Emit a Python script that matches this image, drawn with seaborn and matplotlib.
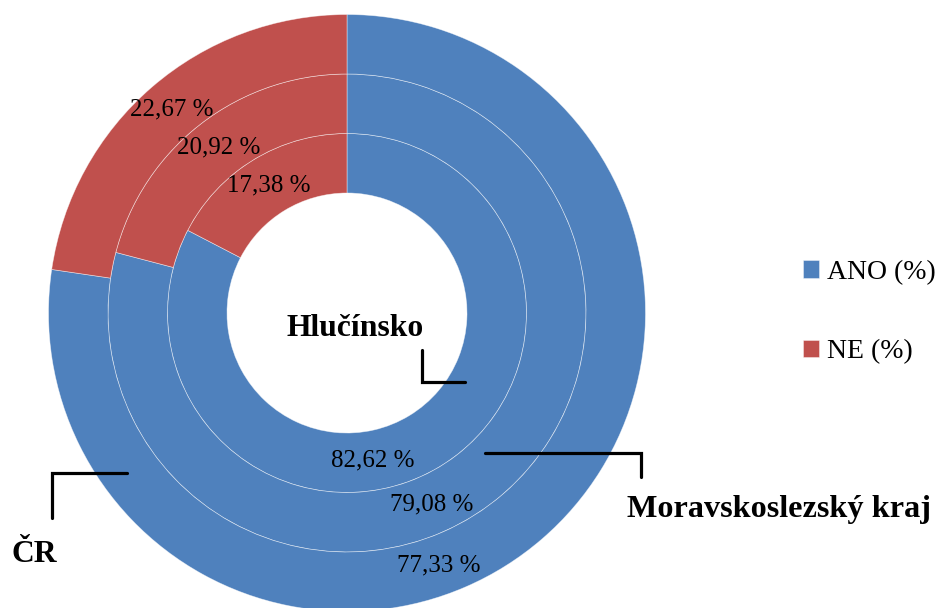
import numpy as np
import matplotlib.pyplot as plt
import seaborn as sns

# data: nested doughnut, inner ring first
regions = ['Hlučínsko', 'Moravskoslezský kraj', 'ČR']
ano = [82.62, 79.08, 77.33]
ne = [17.38, 20.92, 22.67]
series = ['ANO (%)', 'NE (%)']
colors = ['#4F81BD', '#C0504D']

sns.set_theme(style='white')
plt.rcParams['font.family'] = ['Liberation Serif', 'DejaVu Serif']
plt.rcParams['text.color'] = 'black'

W, H = 940, 608
fig = plt.figure(figsize=(W / 100, H / 100), dpi=100)
ax = fig.add_axes([0, 0, 1, 1])


def py(y):
    # pixel row (from top) -> data y
    return H - y


cx, cy = 347, py(313)
hole = 120
ring = 59.5
# Excel nudged the ANO labels away from the wedge middle
ano_label_angles = [-80, -66, -70]

for i, (a, n) in enumerate(zip(ano, ne)):
    r_out = hole + ring * (i + 1)
    wedges, _ = ax.pie([a, n], colors=colors, radius=r_out, center=(cx, cy),
                       startangle=90, counterclock=False, frame=True,
                       wedgeprops=dict(width=ring, edgecolor=(1, 1, 1, 0.55), linewidth=0.5))
    r_mid = r_out - ring / 2
    # NE label in the middle of its wedge
    w = wedges[1]
    t = np.deg2rad((w.theta1 + w.theta2) / 2)
    ax.text(cx + r_mid * np.cos(t), cy + r_mid * np.sin(t),
            f'{n:.2f} %'.replace('.', ','), ha='center', va='center', fontsize=18)
    t = np.deg2rad(ano_label_angles[i])
    ax.text(cx + r_mid * np.cos(t), cy + r_mid * np.sin(t),
            f'{a:.2f} %'.replace('.', ','), ha='center', va='center', fontsize=18)

# ring names with leader lines
lw = 2.3
ax.text(355, py(328), regions[0], ha='center', va='center', fontsize=22.8, fontweight='bold')
ax.plot([422, 422, 465], [py(350), py(382), py(382)], color='black', lw=lw, solid_joinstyle='miter')

ax.text(779, py(510), regions[1], ha='center', va='center', fontsize=23.2, fontweight='bold')
ax.plot([485, 641, 641], [py(453), py(453), py(477)], color='black', lw=lw, solid_joinstyle='miter')

ax.text(34, py(555), regions[2], ha='center', va='center', fontsize=22.8, fontweight='bold')
ax.plot([127, 52, 52], [py(473), py(473), py(518)], color='black', lw=lw, solid_joinstyle='miter')

ax.set_xlim(0, W)
ax.set_ylim(0, H)
ax.set_aspect('equal')
ax.axis('off')

fig.legend(wedges, series, loc='center left', bbox_to_anchor=(803 / W, 1 - 312 / H),
           frameon=False, fontsize=20, handlelength=0.58, handleheight=0.58,
           handletextpad=0.3, labelspacing=1.95, borderpad=0, borderaxespad=0)

fig.savefig('out.png', dpi=100)
